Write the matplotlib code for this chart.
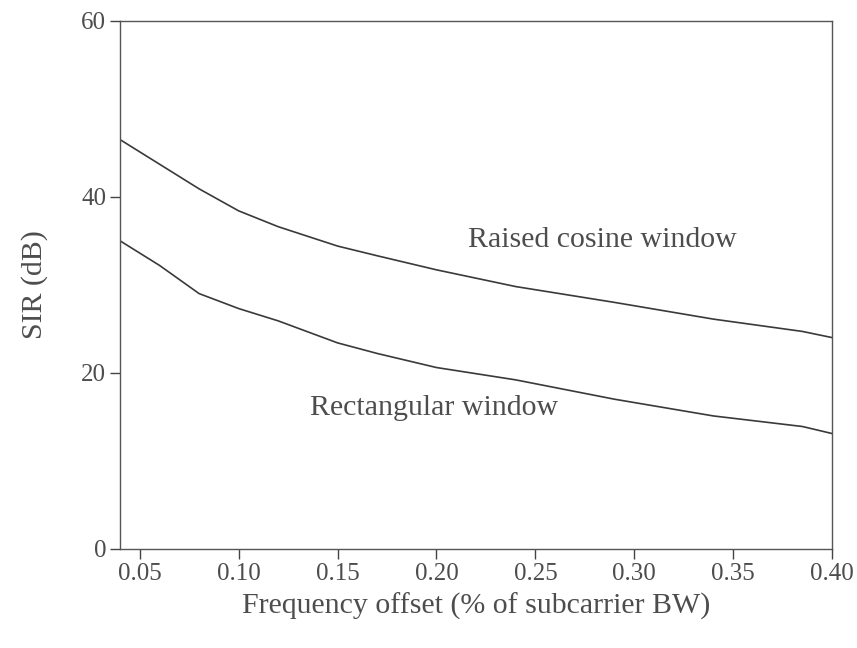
import matplotlib.pyplot as plt

# frequency offset (fraction of subcarrier bandwidth)
offset = [0.04, 0.06, 0.08, 0.10, 0.12, 0.15, 0.17, 0.20, 0.24, 0.29, 0.34, 0.385, 0.40]
# SIR in dB for the two receive windows
sir_raised = [46.5, 43.7, 40.9, 38.4, 36.6, 34.4, 33.3, 31.7, 29.8, 28.0, 26.1, 24.7, 24.0]
sir_rect = [35.0, 32.2, 29.0, 27.3, 25.9, 23.4, 22.2, 20.6, 19.2, 17.0, 15.1, 13.9, 13.1]

x_ticks = [0.05, 0.10, 0.15, 0.20, 0.25, 0.30, 0.35, 0.40]
y_ticks = [0, 20, 40, 60]

txt = '#4d4d4d'
plt.rcParams['font.family'] = ['Liberation Serif', 'DejaVu Serif']

fig = plt.figure(figsize=(8.57, 6.48), dpi=100)
ax = fig.add_axes([0.140, 0.153, 0.831, 0.815])

ax.plot(offset, sir_raised, color='#3a3a3a', lw=1.2)
ax.plot(offset, sir_rect, color='#3a3a3a', lw=1.2)

ax.text(0.284, 35.1, 'Raised cosine window', fontsize=21.5, color=txt,
        ha='center', va='center')
ax.text(0.199, 16.0, 'Rectangular window', fontsize=21.5, color=txt,
        ha='center', va='center')

ax.set_xlim(0.04, 0.40)
ax.set_ylim(0, 60)
ax.set_xticks(x_ticks)
ax.set_xticklabels([f'{v:.2f}' for v in x_ticks])
ax.set_yticks(y_ticks)
ax.tick_params(direction='out', length=7, width=1, colors='#444444',
               labelsize=18, labelcolor=txt, pad=3)

for s in ax.spines.values():
    s.set_color('#555555')
    s.set_linewidth(1.0)

ax.set_xlabel('Frequency offset (% of subcarrier BW)', fontsize=21.5,
              color=txt, labelpad=6)
ax.set_ylabel('SIR (dB)', fontsize=21.5, color=txt, labelpad=24)

fig.savefig('out.png', dpi=100)
